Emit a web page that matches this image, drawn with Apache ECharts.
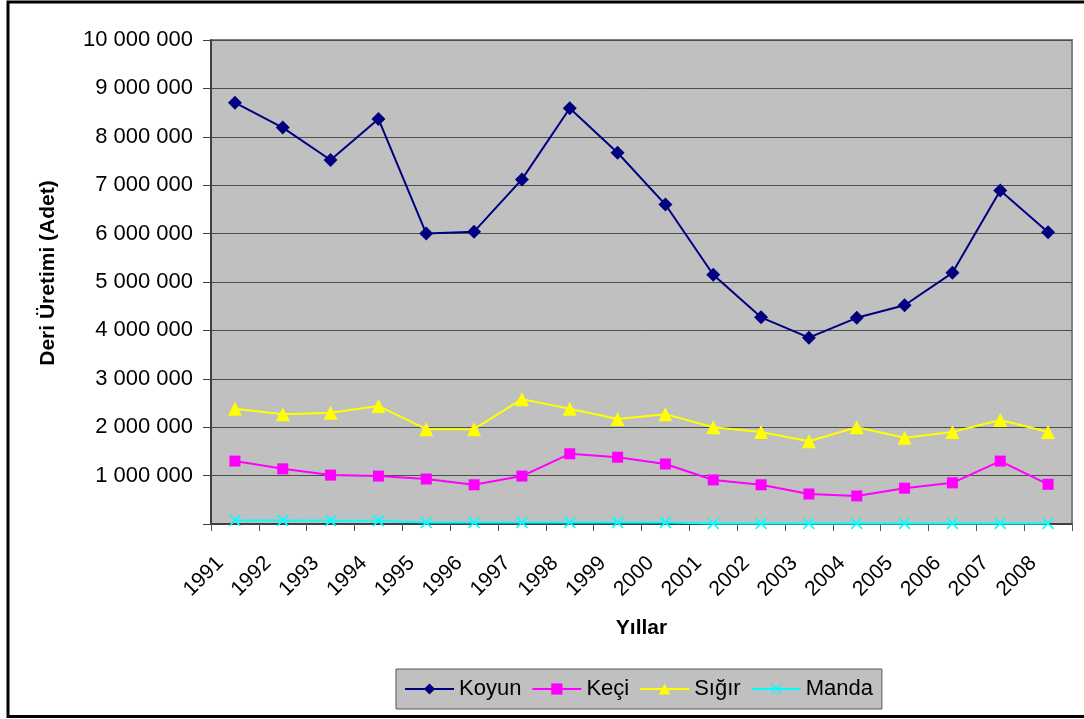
<!DOCTYPE html>
<html>
<head>
<meta charset="utf-8">
<script src="https://cdn.jsdelivr.net/npm/echarts@6/dist/echarts.min.js"></script>
<style>
  html, body { margin: 0; padding: 0; background: #fff; overflow: hidden; }
  #chart { width: 1084px; height: 719px; }
</style>
</head>
<body>
<div id="chart"></div>
<script>
const years = ['1991', '1992', '1993', '1994', '1995', '1996', '1997', '1998', '1999',
  '2000', '2001', '2002', '2003', '2004', '2005', '2006', '2007', '2008']

// Deri üretimi (adet)
const koyun = [8705000, 8190000, 7520000, 8370000, 6000000, 6040000, 7120000, 8590000, 7670000,
  6600000, 5150000, 4270000, 3850000, 4260000, 4520000, 5190000, 6890000, 6030000]
const keci = [1300000, 1140000, 1010000, 990000, 930000, 810000, 990000, 1450000, 1380000,
  1240000, 910000, 810000, 620000, 580000, 740000, 850000, 1300000, 820000]
const sigir = [2380000, 2270000, 2300000, 2440000, 1960000, 1960000, 2580000, 2380000, 2170000,
  2270000, 2000000, 1900000, 1710000, 2000000, 1780000, 1900000, 2150000, 1900000]
const manda = [70000, 70000, 68000, 66000, 30000, 30000, 30000, 30000, 30000,
  30000, 12000, 12000, 12000, 12000, 12000, 12000, 12000, 12000]

const FONT = '"Liberation Sans", Arial, sans-serif'
const crossPath = 'path://M0,1L1,0L5,4L9,0L10,1L6,5L10,9L9,10L5,6L1,10L0,9L4,5Z'

function fmt(v) {
  if (v === 0) return ''
  return String(v).replace(/\B(?=(\d{3})+(?!\d))/g, ' ')
}

function lineSeries(name, data, color, symbol, size) {
  return {
    name,
    type: 'line',
    data,
    symbol,
    symbolSize: size,
    showAllSymbol: true,
    lineStyle: { color, width: 2 },
    itemStyle: { color },
    emphasis: { disabled: true },
  }
}

const chart = echarts.init(document.getElementById('chart'))
chart.setOption({
  animation: false,
  textStyle: { fontFamily: FONT },
  graphic: [
    {
      type: 'rect',
      shape: { x: 8, y: 2, width: 1100, height: 714.5 },
      style: { fill: 'none', stroke: '#000', lineWidth: 3 },
      silent: true,
    },
  ],
  grid: {
    left: 211,
    top: 40,
    right: 12,
    bottom: 195,
    show: true,
    backgroundColor: '#c0c0c0',
    borderColor: '#808080',
    borderWidth: 2,
  },
  legend: {
    left: 396,
    top: 669,
    orient: 'horizontal',
    backgroundColor: '#c0c0c0',
    borderColor: '#555',
    borderWidth: 1,
    borderRadius: 0,
    padding: [9, 9, 9, 8],
    itemWidth: 49,
    itemHeight: 14,
    itemGap: 10,
    textStyle: { fontSize: 22, color: '#000', fontFamily: FONT },
    data: ['Koyun', 'Keçi', 'Sığır', 'Manda'],
  },
  xAxis: {
    type: 'category',
    data: years,
    boundaryGap: true,
    name: 'Yıllar',
    nameLocation: 'middle',
    nameGap: 94,
    nameTextStyle: { fontSize: 21, fontWeight: 'bold', color: '#000', fontFamily: FONT },
    axisLine: { show: true, lineStyle: { color: '#404040', width: 2 } },
    axisTick: { show: true, alignWithLabel: false, interval: 0, length: 7, lineStyle: { color: '#555' } },
    axisLabel: {
      interval: 0,
      rotate: 45,
      margin: 21,
      padding: [0, 21, 0, 0],
      fontSize: 21,
      color: '#000',
      fontFamily: FONT,
    },
    splitLine: { show: false },
  },
  yAxis: {
    type: 'value',
    min: 0,
    max: 10000000,
    interval: 1000000,
    name: 'Deri Üretimi (Adet)',
    nameLocation: 'middle',
    nameGap: 152,
    nameTextStyle: { fontSize: 21, fontWeight: 'bold', color: '#000', fontFamily: FONT, padding: [0, 0, 0, 18] },
    axisLine: { show: true, lineStyle: { color: '#404040', width: 2 } },
    axisTick: { show: true, length: 8, lineStyle: { color: '#404040' } },
    axisLabel: {
      margin: 18,
      fontSize: 22,
      color: '#000',
      fontFamily: FONT,
      formatter: fmt,
    },
    splitLine: { show: true, lineStyle: { color: '#4d4d4d', width: 1 } },
  },
  series: [
    lineSeries('Koyun', koyun, '#000080', 'diamond', 14),
    lineSeries('Keçi', keci, '#ff00ff', 'rect', 11),
    lineSeries('Sığır', sigir, '#ffff00', 'triangle', 14),
    lineSeries('Manda', manda, '#00ffff', crossPath, 12),
  ],
})
</script>
</body>
</html>
